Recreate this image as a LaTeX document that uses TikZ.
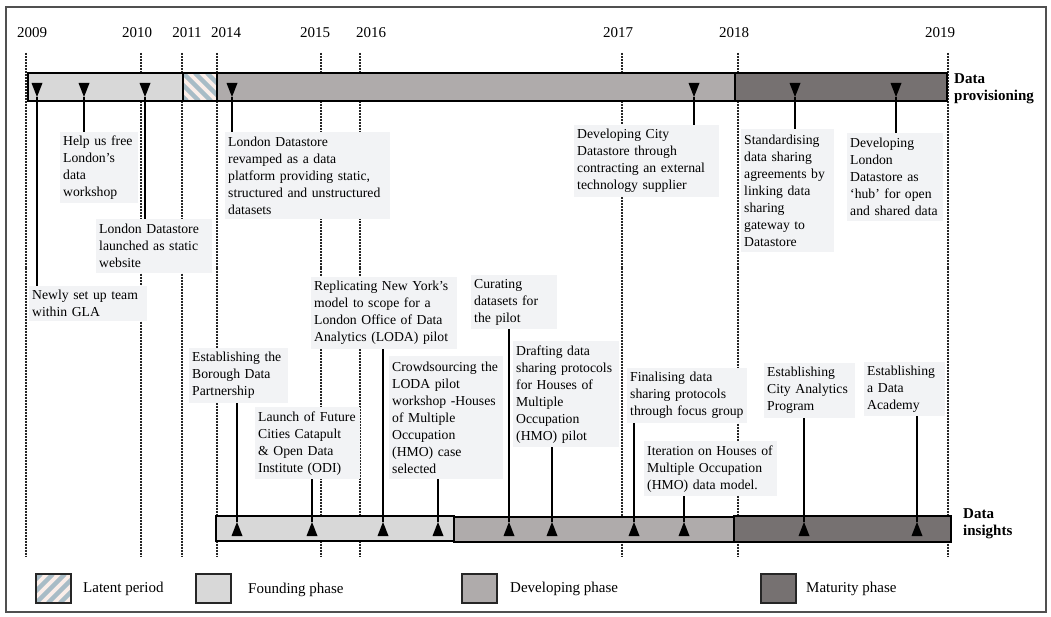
\documentclass[tikz,border=0pt]{standalone}
\usepackage{fontspec}
\setmainfont{Liberation Serif}
\usetikzlibrary{calc}
\definecolor{found}{HTML}{D8D8D8}
\definecolor{dev}{HTML}{AFABAB}
\definecolor{mat}{HTML}{767171}
\definecolor{boxfill}{HTML}{F2F3F5}
\definecolor{latbg}{HTML}{FBEEE9}
\definecolor{latst}{HTML}{A8BCC6}
\definecolor{framecol}{HTML}{505050}
\tikzset{
  ev/.style={fill=boxfill, anchor=north west, align=left, inner xsep=3pt, inner ysep=1pt,
    font=\fontsize{13.7}{17}\selectfont},
  yearlab/.style={font=\fontsize{15}{17}\selectfont, inner sep=0pt},
  rowlab/.style={font=\fontsize{15}{17}\selectfont\bfseries, align=left, anchor=north west, inner sep=0pt},
  leglab/.style={font=\fontsize{15}{17}\selectfont, anchor=west, inner sep=0pt},
  yearline/.style={line width=1.1pt, black!85, dash pattern=on 1pt off 0.5pt},
  evline/.style={line width=1.6pt, black},
  barseg/.style={draw=black, line width=1.8pt},
  legbox/.style={draw=black!85, line width=1.4pt},
}
\begin{document}
\begin{tikzpicture}[x=1pt,y=-1pt]
\useasboundingbox (0,0) rectangle (1051,617);
\fill[white] (0,0) rectangle (1051,617);
\draw[framecol, line width=1.2pt] (6,7) rectangle (1046,612);

% year labels
\foreach \lx/\yr in {32/2009,137/2010,187/2011,226/2014,315/2015,371/2016,618/2017,734/2018,940/2019}
  \node[yearlab] (y\yr) at (\lx,32.5) {\yr};

% year lines
\foreach \x in {26,141,182,217,321,360,622,738,948}
  \draw[yearline] (\x,53) -- (\x,557);

% top bar (data provisioning)
\draw[barseg, fill=found] (28,73) rectangle (183,101);
\begin{scope}
  \clip (183,73) rectangle (217,101);
  \fill[latbg] (183,73) rectangle (217,101);
  \foreach \i in {-4,...,4}
    \draw[latst, line width=4.5pt] (183+\i*12,73) -- ++(28,28);
\end{scope}
\draw[barseg] (183,73) rectangle (217,101);
\draw[barseg, fill=dev] (217,73) rectangle (735,101);
\draw[barseg, fill=mat] (735,73) rectangle (947,101);

% bottom bar (data insights)
\draw[barseg, fill=found] (216,516) rectangle (454,541);
\draw[barseg, fill=dev] (454,517) rectangle (734,542);
\draw[barseg, fill=mat] (734,516) rectangle (951,542);

% event boxes (upper)
\node[ev, minimum width=78pt, minimum height=71pt, text width=72pt] (help) at (60,132)
  {Help us free\\London’s\\data\\workshop};
\node[ev, minimum width=116pt, minimum height=54pt, text width=110pt] (launched) at (96,219)
  {London Datastore\\launched as static\\website};
\node[ev, minimum width=118pt, minimum height=35pt, text width=112pt] (newly) at (29,286)
  {Newly set up team\\within GLA};
\node[ev, minimum width=165pt, minimum height=87pt, text width=159pt] (revamped) at (225,132)
  {London Datastore\\revamped as a data\\platform providing static,\\structured~and~unstructured\\datasets};
\node[ev, minimum width=145pt, minimum height=72pt, text width=139pt] (devcity) at (574,125)
  {Developing City\\Datastore through\\contracting~an~external\\technology supplier};
\node[ev, minimum width=93pt, minimum height=123pt, text width=87pt] (standard) at (741,129)
  {Standardising\\data sharing\\agreements by\\linking data\\sharing\\gateway to\\Datastore};
\node[ev, minimum width=96pt, minimum height=88pt, text width=90pt] (hub) at (847,133)
  {Developing\\London\\Datastore as\\‘hub’ for open\\and~shared~data};

% event boxes (lower)
\node[ev, minimum width=146pt, minimum height=72pt, text width=140pt] (replic) at (311,277)
  {Replicating~New~York’s\\model to scope for a\\London~Office~of~Data\\Analytics~(LODA)~pilot};
\node[ev, minimum width=86pt, minimum height=54pt, text width=80pt] (curating) at (471,275)
  {Curating\\datasets for\\the pilot};
\node[ev, minimum width=99pt, minimum height=55pt, text width=93pt] (borough) at (189,348)
  {Establishing~the\\Borough Data\\Partnership};
\node[ev, minimum width=105pt, minimum height=72pt, text width=99pt] (launch) at (255,407)
  {Launch~of~Future\\Cities Catapult\\\& Open Data\\Institute (ODI)};
\node[ev, minimum width=114pt, minimum height=123pt, text width=108pt] (crowd) at (389,356)
  {Crowdsourcing~the\\LODA pilot\\workshop~-Houses\\of Multiple\\Occupation\\(HMO) case\\selected};
\node[ev, minimum width=106pt, minimum height=106pt, text width=100pt] (drafting) at (513,341)
  {Drafting data\\sharing~protocols\\for Houses of\\Multiple\\Occupation\\(HMO) pilot};
\node[ev, minimum width=120pt, minimum height=55pt, text width=114pt] (finalising) at (627,368)
  {Finalising data\\sharing~protocols\\through~focus~group};
\node[ev, minimum width=133pt, minimum height=55pt, text width=127pt] (iteration) at (644,441)
  {Iteration~on~Houses~of\\Multiple~Occupation\\(HMO)~data~model.};
\node[ev, minimum width=91pt, minimum height=55pt, text width=85pt] (cityan) at (764,363)
  {Establishing\\City~Analytics\\Program};
\node[ev, minimum width=81pt, minimum height=54pt, text width=75pt] (academy) at (864,362)
  {Establishing\\a Data\\Academy};

% connectors from top bar markers
\foreach \x/\b in {37/newly,84/help,145/launched,232/revamped,694/devcity,795/standard,896/hub} {
  \coordinate (t\b) at (\x,97);
  \draw[evline] (t\b) -- (t\b |- \b.north);
  \fill (t\b) -- ++(-5.5,-14) -- ++(11,0) -- cycle;
}
% connectors to bottom bar markers
\foreach \x/\b in {237/borough,312/launch,383/replic,438/crowd,509/curating,552/drafting,634/finalising,684/iteration,804/cityan,917/academy} {
  \coordinate (b\b) at (\x,522);
  \draw[evline] (\b.south -| b\b) -- (b\b);
  \fill (b\b) -- ++(-5.5,14) -- ++(11,0) -- cycle;
}

% row labels
\node[rowlab] (dprov) at (954,73.5) {Data\\provisioning};
\node[rowlab] (dins) at (963,508) {Data\\insights};

% legend
\begin{scope}
  \clip (36,574) rectangle (71,603);
  \fill[latbg] (36,574) rectangle (71,603);
  \foreach \i in {-4,...,4}
    \draw[latst, line width=4.5pt] (36+\i*12,603) -- ++(29,-29);
\end{scope}
\draw[legbox] (36,574) rectangle (71,603);
\node[leglab] (llat) at (83,589) {Latent period};
\draw[legbox, fill=found] (196,574) rectangle (231,603);
\node[leglab] (lfound) at (248,590) {Founding phase};
\draw[legbox, fill=dev] (462,574) rectangle (497,603);
\node[leglab] (ldev) at (510,589) {Developing phase};
\draw[legbox, fill=mat] (761,574) rectangle (796,603);
\node[leglab] (lmat) at (806,589) {Maturity phase};
\end{tikzpicture}
\end{document}
